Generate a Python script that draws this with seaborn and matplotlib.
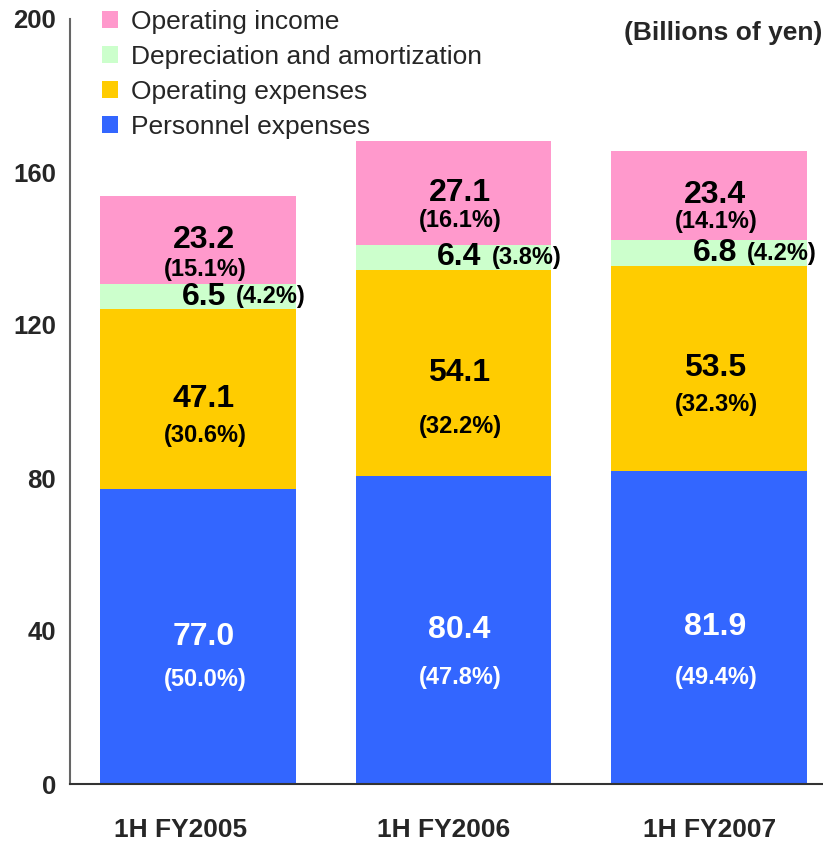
import numpy as np
import pandas as pd
import matplotlib
matplotlib.use("Agg")
import matplotlib.pyplot as plt
import matplotlib.transforms as mtransforms
import seaborn as sns
from matplotlib.patches import Patch

# ---------------- data ----------------
periods = ["1H FY2005", "1H FY2006", "1H FY2007"]
personnel = [77.0, 80.4, 81.9]
operating_exp = [47.1, 54.1, 53.5]
depreciation = [6.5, 6.4, 6.8]
operating_inc = [23.2, 27.1, 23.4]
personnel_pct = ["50.0%", "47.8%", "49.4%"]
operating_exp_pct = ["30.6%", "32.2%", "32.3%"]
depreciation_pct = ["4.2%", "3.8%", "4.2%"]
operating_inc_pct = ["15.1%", "16.1%", "14.1%"]
series_names = ["Personnel expenses", "Operating expenses",
                "Depreciation and amortization", "Operating income"]
colors = ["#3366FF", "#FFCC00", "#CCFFCC", "#FF99CC"]
y_ticks = [0, 40, 80, 120, 160, 200]

values = [personnel, operating_exp, depreciation, operating_inc]
pcts = [personnel_pct, operating_exp_pct, depreciation_pct, operating_inc_pct]

# label layout (pixel gaps between value and percentage text)
pct_gap_px = {"Personnel expenses": [43, 47, 50],
              "Operating expenses": [36, 53, 36],
              "Operating income": [29, 27, 26]}
label_shift_px = [-17, -10, 0]

rows = []
for s, vals, pc in zip(series_names, values, pcts):
    for p, v, q in zip(periods, vals, pc):
        rows.append(dict(period=p, series=s, value=v, pct=q))
df = pd.DataFrame(rows)
df["series"] = pd.Categorical(df["series"], series_names, ordered=True)
df = df.sort_values(["period", "series"])
df["top"] = df.groupby("period")["value"].cumsum()
df["bottom"] = df["top"] - df["value"]
df["mid"] = (df["top"] + df["bottom"]) / 2

# ---------------- figure ----------------
sns.set_style("white")
plt.rcParams["font.family"] = ["Liberation Sans", "DejaVu Sans"]

W, H = 823, 841
PT = 0.72  # points per pixel at dpi 100
fig = plt.figure(figsize=(W / 100, H / 100), dpi=100)
ax = fig.add_axes([70 / W, 57 / H, 767 / W, 765 / H])

bar_w = 0.766
for s, c in reversed(list(zip(series_names, colors))):
    sub = df[df["series"] == s]
    sns.barplot(data=sub, x="period", y="top", order=periods, color=c,
                saturation=1, width=bar_w, errorbar=None, linewidth=0, ax=ax)

ax.set_xlim(-0.5, 2.5)
ax.set_ylim(0, 200)
ax.set_yticks(y_ticks)
ax.set_yticklabels([str(t) for t in y_ticks], fontsize=18.5, fontweight="bold")
ax.set_xticks(range(len(periods)))
ax.set_xticklabels(periods, fontsize=19, fontweight="bold")
ax.set_xticks([0.5, 1.5], minor=True)
ax.tick_params(axis="x", which="major", length=0, pad=24.5)
ax.tick_params(axis="x", which="minor", direction="in", length=6, width=1, color="#333333")
ax.tick_params(axis="y", direction="in", length=6, width=1, color="#555555", pad=10)
ax.set_xlabel("")
ax.set_ylabel("")
for lbl, dx in zip(ax.get_xticklabels(), label_shift_px):
    lbl.set_transform(lbl.get_transform() +
                      mtransforms.ScaledTranslation(dx / 100, 0, fig.dpi_scale_trans))
for side in ["top", "right"]:
    ax.spines[side].set_visible(False)
ax.spines["left"].set_color("#666666")
ax.spines["left"].set_linewidth(1.5)
ax.spines["bottom"].set_color("#333333")
ax.spines["bottom"].set_linewidth(1.5)

# ---------------- labels ----------------
for _, r in df.iterrows():
    i = periods.index(r["period"])
    s = r["series"]
    if s == "Depreciation and amortization":
        ax.annotate(f"{r['value']:.1f}", (i, r["mid"]), xytext=(6 * PT, 0),
                    textcoords="offset points", ha="center", va="center",
                    fontsize=23, fontweight="bold", color="black")
        ax.annotate(f"({r['pct']})", (i, r["mid"]), xytext=(38 * PT, 0),
                    textcoords="offset points", ha="left", va="center",
                    fontsize=17, fontweight="bold", color="black")
    else:
        col = "white" if s == "Personnel expenses" else "black"
        gap = pct_gap_px[s][i]
        ax.annotate(f"{r['value']:.1f}", (i, r["mid"]), xytext=(6 * PT, 0),
                    textcoords="offset points", ha="center", va="center",
                    fontsize=23, fontweight="bold", color=col)
        ax.annotate(f"({r['pct']})", (i, r["mid"]), xytext=(7 * PT, -gap * PT),
                    textcoords="offset points", ha="center", va="center",
                    fontsize=17, fontweight="bold", color=col)

# ---------------- legend ----------------
handles = [Patch(facecolor=c, edgecolor="none") for c in colors][::-1]
labels = series_names[::-1]
fig.legend(handles, labels, loc="upper left", bbox_to_anchor=(101.5 / W, 1 - 9.5 / H),
           frameon=False, fontsize=19, handlelength=0.64, handleheight=0.64,
           handletextpad=0.49, labelspacing=0.42, borderpad=0, borderaxespad=0)

fig.text(822 / W, 1 - 33 / H, "(Billions of yen)", ha="right", va="center",
         fontsize=19, fontweight="bold")

fig.savefig("out.png", dpi=100)
